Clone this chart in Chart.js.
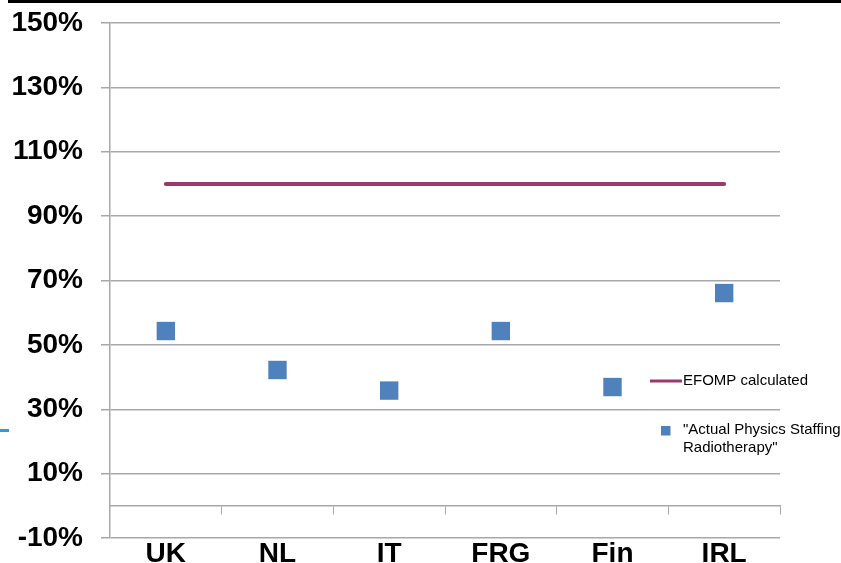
<!DOCTYPE html>
<html>
<head>
<meta charset="utf-8">
<script src="https://cdn.jsdelivr.net/npm/chart.js@4"></script>
<style>
  html, body { margin: 0; padding: 0; background: #fff; }
  #wrap { position: relative; width: 841px; height: 563px; overflow: hidden; }
  #topbar { position: absolute; left: 8px; top: 0; width: 833px; height: 3px; background: #000; }
  #dash { position: absolute; left: 0; top: 429px; width: 9px; height: 3px; background: #2E9BE0; }
  canvas { position: absolute; left: 0; top: 0; }
</style>
</head>
<body>
<div id="wrap">
  <canvas id="canvas"></canvas>
  <div id="topbar"></div>
  <div id="dash"></div>
</div>
<script>
// countries along the x axis
let countries = ['UK', 'NL', 'IT', 'FRG', 'Fin', 'IRL'];
// EFOMP calculated staffing (reference level)
let efomp = [100, 100, 100, 100, 100, 100];
// actual physics staffing, radiotherapy
let actual = [54.3, 42.2, 35.8, 54.3, 36.9, 66.1];
// y axis range
let yMin = -10;
let yMax = 150;
let yStep = 20;

let lineColor = '#9B3A6A';
let markColor = '#4F81BD';
let gridColor = '#A8A8A8';

// legend drawn by hand so the second label can wrap
let legendPlugin = {
  id: 'sideLegend',
  afterDraw(chart) {
    let ctx = chart.ctx;
    ctx.save();
    ctx.font = '15px "Liberation Sans", Arial, sans-serif';
    ctx.fillStyle = '#000';
    ctx.textBaseline = 'middle';
    ctx.textAlign = 'left';

    ctx.strokeStyle = lineColor;
    ctx.lineWidth = 3;
    ctx.beginPath();
    ctx.moveTo(650, 381);
    ctx.lineTo(682, 381);
    ctx.stroke();
    ctx.fillText(chart.data.datasets[0].label, 683, 381);

    ctx.fillStyle = markColor;
    ctx.fillRect(661, 426, 9.5, 9.5);
    ctx.fillStyle = '#000';
    ctx.fillText('"Actual Physics Staffing', 683, 430);
    ctx.fillText('Radiotherapy"', 683, 448);
    ctx.restore();
  }
};

let canvas = document.getElementById('canvas');
canvas.width = 841;
canvas.height = 563;

let chart = new Chart(canvas, {
  type: 'line',
  data: {
    labels: countries,
    datasets: [{
      label: 'EFOMP calculated',
      data: efomp,
      borderColor: lineColor,
      backgroundColor: lineColor,
      borderWidth: 4,
      pointRadius: 0,
      borderCapStyle: 'round'
    }, {
      label: '"Actual Physics Staffing Radiotherapy"',
      data: actual,
      showLine: false,
      pointStyle: 'rect',
      pointRadius: 13,
      pointBorderWidth: 0,
      pointBackgroundColor: markColor,
      borderColor: markColor
    }]
  },
  options: {
    responsive: false,
    animation: false,
    layout: { padding: { left: 11, right: 61, top: 23, bottom: 25 } },
    plugins: {
      legend: { display: false },
      tooltip: { enabled: false }
    },
    scales: {
      x: {
        position: { y: 0 },
        offset: true,
        grid: { offset: true, drawOnChartArea: false, color: gridColor, tickLength: 8 },
        border: { color: gridColor, width: 1.5 },
        ticks: {
          padding: 24,
          color: '#000',
          font: { family: '"Liberation Sans", Arial, sans-serif', size: 28, weight: 'bold' }
        }
      },
      y: {
        min: yMin,
        max: yMax,
        grid: { color: gridColor, lineWidth: 1.5, tickLength: 9 },
        border: { color: gridColor, width: 1.5 },
        ticks: {
          stepSize: yStep,
          padding: 18,
          color: '#000',
          font: { family: '"Liberation Sans", Arial, sans-serif', size: 28, weight: 'bold' },
          callback: v => v + '%'
        },
        // pin the axis width and let the end labels spill into the padding
        afterFit(s) {
          s.width = 99;
          s.paddingTop = 0;
          s.paddingBottom = 0;
        }
      }
    }
  },
  plugins: [legendPlugin]
});
</script>
</body>
</html>
